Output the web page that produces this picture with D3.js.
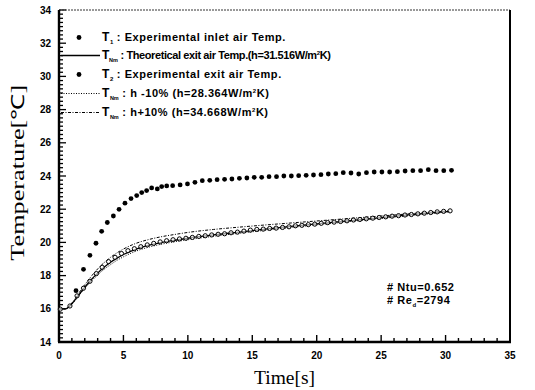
<!DOCTYPE html>
<html>
<head>
<meta charset="utf-8">
<script src="https://cdn.jsdelivr.net/npm/d3@7"></script>
<style>
  html, body { margin: 0; padding: 0; background: #fff; }
  svg { display: block; }
  .tick-label { font-family: "Liberation Sans", Arial, sans-serif; font-weight: bold; font-size: 10px; }
  .legend { font-family: "Liberation Sans", Arial, sans-serif; font-weight: bold; font-size: 11px; letter-spacing: 0.55px; }
  .title { font-family: "Liberation Serif", "Times New Roman", serif; font-size: 18px; }
</style>
</head>
<body>
<svg width="535" height="390"></svg>
<script>
// T1 : experimental inlet air temperature (filled dots)
const t1Time = [1.32, 1.9, 2.4, 2.87, 3.31, 3.75, 4.22, 4.66, 5.12, 5.59, 6.03, 6.42, 6.8, 7.19, 7.63, 7.97, 8.36,
  8.82, 9.4, 9.97, 10.55, 11.12, 11.7, 12.27, 12.85, 13.42, 14.0, 14.58, 15.15, 15.73, 16.3, 16.88, 17.45,
  18.03, 18.6, 19.18, 19.75, 20.33, 20.9, 21.48, 22.06, 22.66, 23.26, 23.86, 24.46, 25.06, 25.66, 26.26,
  26.86, 27.46, 28.06, 28.66, 29.26, 29.86, 30.46];
const t1Temp = [17.09, 18.38, 19.22, 19.95, 20.67, 21.2, 21.59, 21.99, 22.36, 22.64, 22.82, 23.0, 23.12, 23.28, 23.22, 23.36, 23.4,
  23.42, 23.46, 23.52, 23.62, 23.72, 23.74, 23.78, 23.8, 23.82, 23.86, 23.88, 23.92, 23.92, 23.96, 23.96, 24.0,
  24.0, 24.02, 24.04, 24.06, 24.08, 24.12, 24.14, 24.2, 24.18, 24.12, 24.2, 24.24, 24.24, 24.24, 24.26,
  24.3, 24.32, 24.32, 24.38, 24.32, 24.32, 24.34];

// T2 : experimental exit air temperature (open circles)
const t2Time = [0.1, 0.85, 1.4, 1.9, 2.4, 2.9, 3.35, 3.85, 4.35, 4.85, 5.35, 5.85, 6.35, 6.85, 7.35, 7.85, 8.35, 8.85,
  9.35, 9.85, 10.35, 10.85, 11.35, 11.85, 12.35, 12.85, 13.35, 13.85, 14.35, 14.85, 15.35, 15.85, 16.35, 16.85,
  17.35, 17.85, 18.35, 18.85, 19.35, 19.85, 20.35, 20.85, 21.35, 21.85, 22.35, 22.85, 23.35, 23.85, 24.35, 24.85,
  25.35, 25.85, 26.35, 26.85, 27.35, 27.85, 28.35, 28.85, 29.35, 29.85, 30.35];
const t2Temp = [15.98, 16.17, 16.78, 17.24, 17.66, 18.12, 18.5, 18.84, 19.1, 19.33, 19.5, 19.62, 19.74, 19.85, 19.94, 20.03, 20.1, 20.16,
  20.21, 20.25, 20.3, 20.36, 20.4, 20.45, 20.49, 20.52, 20.58, 20.62, 20.68, 20.74, 20.78, 20.8, 20.84, 20.86,
  20.9, 20.94, 21.0, 21.03, 21.07, 21.1, 21.15, 21.19, 21.22, 21.26, 21.3, 21.35, 21.38, 21.42, 21.46, 21.5,
  21.54, 21.58, 21.61, 21.65, 21.68, 21.72, 21.76, 21.8, 21.84, 21.87, 21.9];

// theoretical curves
const modelTime = [0, 0.5, 1, 1.5, 2, 2.5, 3, 3.5, 4, 4.5, 5, 6, 7, 8, 9, 10, 12, 14, 16, 18, 20, 22, 24, 26, 28, 30.3];
const modelBase = [16.0, 16.0, 16.3, 16.8, 17.3, 17.75, 18.15, 18.5, 18.8, 19.05, 19.27, 19.6, 19.83, 20.0, 20.13, 20.25,
  20.45, 20.62, 20.8, 20.97, 21.12, 21.27, 21.42, 21.57, 21.72, 21.87];
const modelMinus = [16.0, 16.0, 16.28, 16.76, 17.23, 17.66, 18.04, 18.38, 18.66, 18.92, 19.13, 19.48, 19.72, 19.9, 20.04, 20.16,
  20.37, 20.55, 20.73, 20.9, 21.06, 21.21, 21.37, 21.52, 21.67, 21.84];
const modelPlus = [16.0, 16.0, 16.35, 16.9, 17.45, 17.95, 18.4, 18.78, 19.1, 19.37, 19.6, 19.95, 20.18, 20.35, 20.48, 20.6,
  20.78, 20.92, 21.05, 21.17, 21.29, 21.41, 21.53, 21.65, 21.77, 21.9];

const xTicks = [0, 5, 10, 15, 20, 25, 30, 35];
const yTicks = [14, 16, 18, 20, 22, 24, 26, 28, 30, 32, 34];

const legendRows = [
  { sym: "dot", sub: "1", text: "  : Experimental inlet air Temp." },
  { sym: "solid", sub: "Nm", text: ": Theoretical exit air Temp.(h=31.516W/m", sup: "2", tail: "K)", tight: true },
  { sym: "dot", sub: "2", text: "  : Experimental exit air Temp." },
  { sym: "dotted", sub: "Nm", text: ": h -10% (h=28.364W/m", sup: "2", tail: "K)" },
  { sym: "dashdot", sub: "Nm", text: ": h+10% (h=34.668W/m", sup: "2", tail: "K)" }
];

const svg = d3.select("svg");
const pLeft = 59, pRight = 510, pTop = 10, pBottom = 342;

const x = d3.scaleLinear().domain([0, 35]).range([pLeft, pRight]);
const y = d3.scaleLinear().domain([14, 34]).range([pBottom, pTop]);

// ticks (inward)
const g = svg.append("g");
d3.range(0, 35.01, 1).forEach(v => {
  const major = v % 5 === 0;
  g.append("line").attr("x1", x(v)).attr("x2", x(v))
    .attr("y1", pBottom).attr("y2", pBottom - (major ? 7 : 4))
    .attr("stroke", "#000").attr("stroke-width", 1.4);
});
d3.range(14, 34.01, 0.25).forEach(v => {
  const major = Math.abs(v % 2) < 1e-6;
  g.append("line").attr("y1", y(v)).attr("y2", y(v))
    .attr("x1", pLeft).attr("x2", pLeft + (major ? 7 : 4))
    .attr("stroke", "#000").attr("stroke-width", 1.3);
});

// frame
svg.append("line").attr("x1", pLeft).attr("x2", pRight).attr("y1", pTop).attr("y2", pTop)
  .attr("stroke", "#333").attr("stroke-width", 1).attr("stroke-dasharray", "2,1");
svg.append("line").attr("x1", pRight).attr("x2", pRight).attr("y1", pTop).attr("y2", pBottom)
  .attr("stroke", "#000").attr("stroke-width", 2);
svg.append("line").attr("x1", pLeft).attr("x2", pLeft).attr("y1", pTop).attr("y2", pBottom)
  .attr("stroke", "#000").attr("stroke-width", 2.4);
svg.append("line").attr("x1", pLeft - 1).attr("x2", pRight + 1).attr("y1", pBottom).attr("y2", pBottom)
  .attr("stroke", "#000").attr("stroke-width", 2.4);

// tick labels
svg.selectAll(".xl").data(xTicks).enter().append("text")
  .attr("class", "tick-label")
  .attr("x", d => x(d)).attr("y", 359)
  .attr("text-anchor", "middle").text(d => d);
svg.selectAll(".yl").data(yTicks).enter().append("text")
  .attr("class", "tick-label")
  .attr("x", 51).attr("y", d => y(d) + 3.5)
  .attr("text-anchor", "end").text(d => d);

// axis titles
svg.append("text").attr("class", "title")
  .attr("x", x(17.5)).attr("y", 384)
  .attr("text-anchor", "middle")
  .attr("textLength", 61).attr("lengthAdjust", "spacingAndGlyphs")
  .text("Time[s]");
svg.append("text").attr("class", "title")
  .attr("transform", `translate(24,${y(24.2)}) rotate(-90)`)
  .attr("text-anchor", "middle")
  .attr("textLength", 176).attr("lengthAdjust", "spacingAndGlyphs")
  .text("Temperature[℃]");

// model lines
const line = d3.line().x(d => x(d[0])).y(d => y(d[1])).curve(d3.curveMonotoneX);
const models = [
  { v: modelMinus, dash: "1,1.5", w: 1 },
  { v: modelPlus, dash: "3,1.5,1,1.5", w: 1 },
  { v: modelBase, dash: null, w: 1.3 }
];
models.forEach(m => {
  svg.append("path")
    .datum(modelTime.map((t, i) => [t, m.v[i]]))
    .attr("d", line)
    .attr("fill", "none").attr("stroke", "#000")
    .attr("stroke-width", m.w)
    .attr("stroke-dasharray", m.dash);
});

// T2 open circles
svg.append("g").selectAll("circle")
  .data(t2Time.map((t, i) => [t, t2Temp[i]]))
  .enter().append("circle")
  .attr("cx", d => x(d[0])).attr("cy", d => y(d[1]))
  .attr("r", 2.1).attr("fill", "#fff").attr("fill-opacity", 0.6)
  .attr("stroke", "#000").attr("stroke-width", 1);

// T1 filled dots
svg.append("g").selectAll("circle")
  .data(t1Time.map((t, i) => [t, t1Temp[i]]))
  .enter().append("circle")
  .attr("cx", d => x(d[0])).attr("cy", d => y(d[1]))
  .attr("r", 2.4).attr("fill", "#000");

// legend
const legY = [41, 59, 78, 97, 116];
legendRows.forEach((r, i) => {
  const ly = legY[i];
  if (r.sym === "dot") {
    svg.append("circle").attr("cx", 79).attr("cy", ly - 3.5).attr("r", 2.4).attr("fill", "#000");
  } else {
    svg.append("line").attr("x1", 61).attr("x2", 100).attr("y1", ly - 3.5).attr("y2", ly - 3.5)
      .attr("stroke", "#000").attr("stroke-width", r.sym === "solid" ? 1.3 : 1)
      .attr("stroke-dasharray", r.sym === "dotted" ? "1,1.5" : r.sym === "dashdot" ? "3,1.5,1,1.5" : null);
  }
  const t = svg.append("text").attr("class", "legend").attr("x", 102).attr("y", ly)
    .style("letter-spacing", r.tight ? "-0.4px" : null);
  t.append("tspan").attr("font-size", "12px").text("T");
  t.append("tspan").attr("dy", 3).attr("font-size", r.sub.length > 1 ? "5.5px" : "6px")
    .attr("letter-spacing", "0px").text(r.sub);
  t.append("tspan").attr("dy", -3).text(r.sub.length > 1 ? " " + r.text : r.text);
  if (r.sup) {
    t.append("tspan").attr("dy", -4).attr("font-size", "6px").text(r.sup);
    t.append("tspan").attr("dy", 4).text(r.tail);
  }
});

// annotations
const ann1 = svg.append("text").attr("class", "legend").attr("x", 387).attr("y", 291);
ann1.text("# Ntu=0.652");
const ann2 = svg.append("text").attr("class", "legend").attr("x", 387).attr("y", 304);
ann2.append("tspan").text("# Re");
ann2.append("tspan").attr("dy", 3).attr("font-size", "6px").text("d");
ann2.append("tspan").attr("dy", -3).text("=2794");
</script>
</body>
</html>
